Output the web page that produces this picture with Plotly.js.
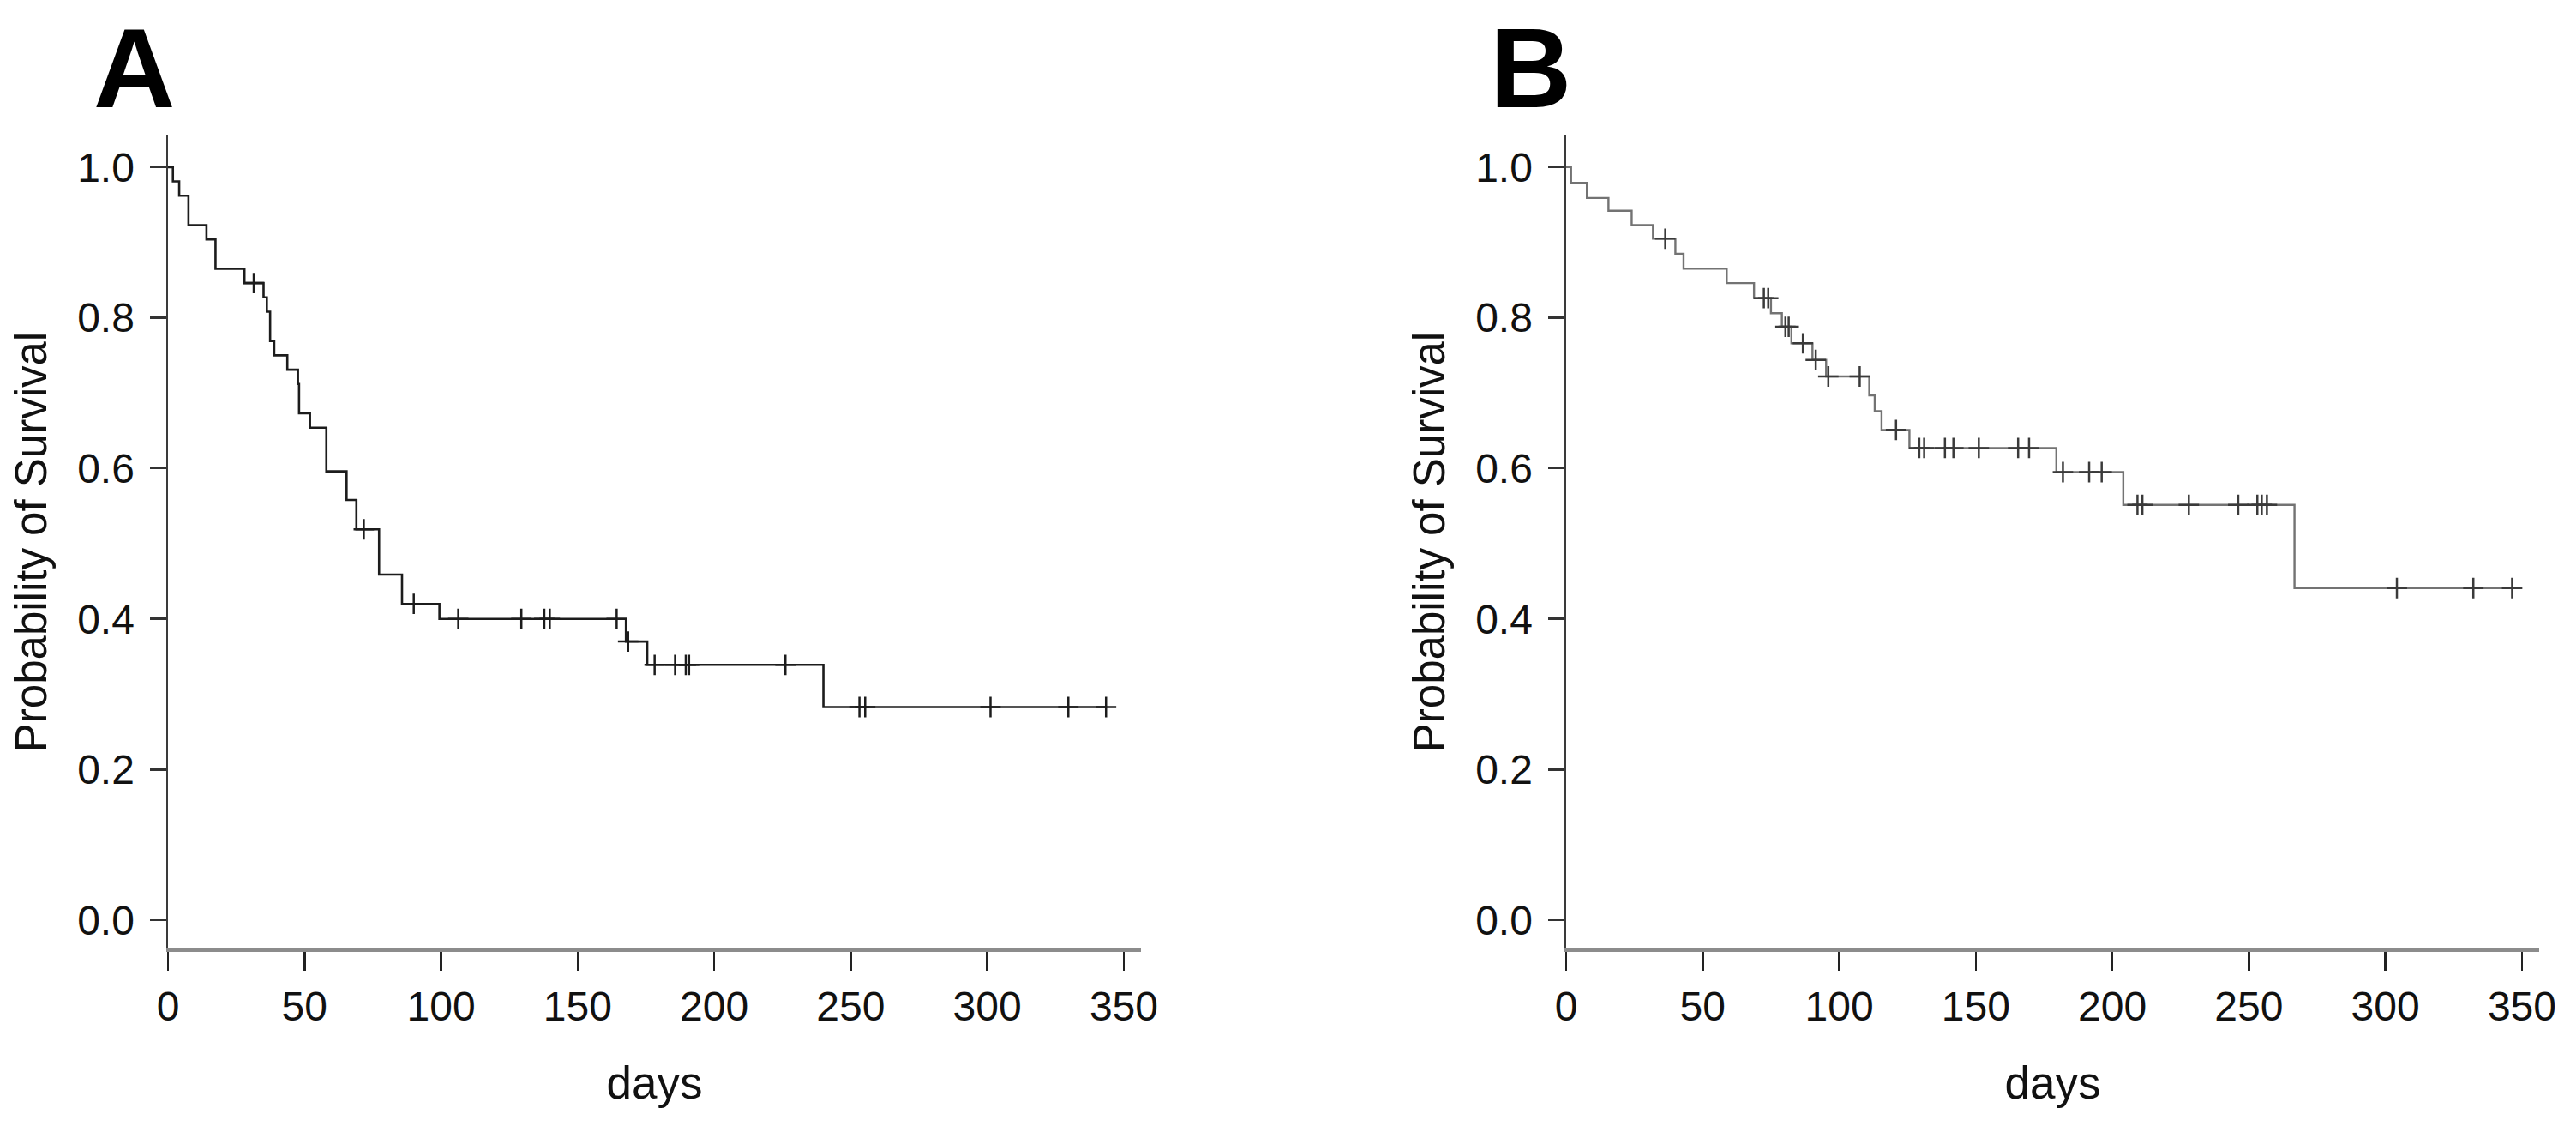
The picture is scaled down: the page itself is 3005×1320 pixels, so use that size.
<!DOCTYPE html>
<html>
<head>
<meta charset="utf-8">
<script src="https://cdn.plot.ly/plotly-3.0.1.min.js"></script>
<style>html,body{margin:0;padding:0;background:#fff;}#chart{width:3005px;height:1320px;}</style>
</head>
<body>
<div id="chart"></div>
<script>
// ---- Panel A: Kaplan-Meier steps (day of drop, survival after drop) ----
const eventDaysA = [1.8, 4.1, 7.5, 14.1, 17.4, 28.0, 35.0, 36.2, 37.4, 38.9, 43.7, 47.6, 48.0, 52.0, 58.0, 65.4, 69.0, 77.3, 85.7, 99.4, 167.7, 175.5, 240.0];
const survA      = [0.981, 0.962, 0.923, 0.904, 0.865, 0.846, 0.827, 0.808, 0.769, 0.750, 0.731, 0.712, 0.673, 0.654, 0.596, 0.558, 0.519, 0.459, 0.420, 0.400, 0.370, 0.339, 0.283];
const censorDaysA = [31.4, 71.7, 90.0, 106.3, 129.4, 137.8, 139.8, 164.3, 168.5, 178.2, 185.7, 189.6, 190.8, 226.1, 253.2, 255.3, 301.2, 329.7, 343.5];

// ---- Panel B ----
const eventDaysB = [1.8, 7.6, 15.5, 24.0, 31.8, 40.0, 43.0, 58.8, 68.8, 75.0, 79.0, 82.5, 90.2, 95.2, 111.0, 113.0, 115.5, 125.7, 179.5, 204.0, 266.7];
const survB      = [0.979, 0.959, 0.942, 0.923, 0.905, 0.885, 0.865, 0.846, 0.826, 0.806, 0.788, 0.766, 0.744, 0.722, 0.697, 0.676, 0.651, 0.627, 0.595, 0.5515, 0.441];
const censorDaysB = [36.3, 72.4, 74.0, 80.3, 81.5, 86.7, 91.4, 96.0, 107.5, 120.8, 129.3, 131.1, 138.7, 141.8, 151.1, 165.5, 169.5, 181.9, 191.5, 196.1, 209.2, 211.0, 228.0, 246.1, 253.1, 254.7, 256.6, 304.2, 332.2, 346.4];

// ---- Axis ticks ----
const xTicks = [0, 50, 100, 150, 200, 250, 300, 350];
const yTicks = [0, 0.2, 0.4, 0.6, 0.8, 1.0];
const yTickText = ['0.0', '0.2', '0.4', '0.6', '0.8', '1.0'];
const panelLabels = ['A', 'B'];

function survAt(t, days, surv) {
  let s = 1.0;
  for (let i = 0; i < days.length; i++) { if (days[i] <= t) s = surv[i]; }
  return s;
}
function stepTrace(days, surv, cens, xa, ya, color, width) {
  const last = cens[cens.length - 1];
  return {
    x: [0].concat(days, [last]),
    y: [1.0].concat(surv, [surv[surv.length - 1]]),
    xaxis: xa, yaxis: ya, type: 'scatter', mode: 'lines',
    line: {shape: 'hv', color: color, width: width},
    hoverinfo: 'skip', showlegend: false
  };
}
function censorTrace(days, surv, cens, xa, ya, color) {
  return {
    x: cens, y: cens.map(t => survAt(t, days, surv)),
    xaxis: xa, yaxis: ya, type: 'scatter', mode: 'markers',
    marker: {symbol: 'cross-thin', size: 17, line: {color: color, width: 2.5}},
    hoverinfo: 'skip', showlegend: false
  };
}

const FONT = 'Liberation Sans, Arial, Helvetica, sans-serif';
const traces = [
  stepTrace(eventDaysA, survA, censorDaysA, 'x', 'y', '#1c1c1c', 2.6),
  censorTrace(eventDaysA, survA, censorDaysA, 'x', 'y', '#1c1c1c'),
  stepTrace(eventDaysB, survB, censorDaysB, 'x2', 'y2', '#737373', 2.4),
  censorTrace(eventDaysB, survB, censorDaysB, 'x2', 'y2', '#3a3a3a')
];

function xAxis(domain, anchor) {
  return {
    domain: domain, anchor: anchor, range: [0, 356.3],
    tickmode: 'array', tickvals: xTicks, ticktext: xTicks.map(String),
    ticks: 'outside', ticklen: 22, tickwidth: 2.5, tickcolor: '#222',
    showline: true, linecolor: '#8c8c8c', linewidth: 4,
    showgrid: false, zeroline: false,
    tickfont: {family: FONT, size: 48, color: '#111'},
    ticklabelstandoff: 0,
    title: {text: 'days', font: {family: FONT, size: 53, color: '#111'}, standoff: 46},
    fixedrange: true
  };
}
function yAxis(domain, anchor) {
  return {
    domain: domain, anchor: anchor, range: [-0.0376, 1.042],
    tickmode: 'array', tickvals: yTicks, ticktext: yTickText,
    ticks: 'outside', ticklen: 19, tickwidth: 2.5, tickcolor: '#333',
    showline: true, linecolor: '#3a3a3a', linewidth: 2.5,
    showgrid: false, zeroline: false,
    tickfont: {family: FONT, size: 48, color: '#111'},
    ticklabelstandoff: 8,
    title: {text: 'Probability of Survival', font: {family: FONT, size: 51, color: '#111'}, standoff: 20},
    fixedrange: true
  };
}

const yDom = [(1320 - 1106) / 1320, (1320 - 158) / 1320];
const layout = {
  width: 3005, height: 1320,
  margin: {l: 0, r: 0, t: 0, b: 0},
  paper_bgcolor: '#ffffff', plot_bgcolor: '#ffffff',
  showlegend: false,
  xaxis: xAxis([196 / 3005, 1331 / 3005], 'y'),
  yaxis: yAxis(yDom, 'x'),
  xaxis2: xAxis([1827 / 3005, 2962 / 3005], 'y2'),
  yaxis2: yAxis(yDom, 'x2'),
  annotations: [
    {text: '<b>' + panelLabels[0] + '</b>', xref: 'paper', yref: 'paper', x: 156 / 3005, y: (1320 - 80) / 1320,
     xanchor: 'center', yanchor: 'middle', showarrow: false, font: {family: FONT, size: 132, color: '#000'}},
    {text: '<b>' + panelLabels[1] + '</b>', xref: 'paper', yref: 'paper', x: 1785 / 3005, y: (1320 - 80) / 1320,
     xanchor: 'center', yanchor: 'middle', showarrow: false, font: {family: FONT, size: 132, color: '#000'}}
  ]
};

Plotly.newPlot('chart', traces, layout, {staticPlot: true, displayModeBar: false});
</script>
</body>
</html>
